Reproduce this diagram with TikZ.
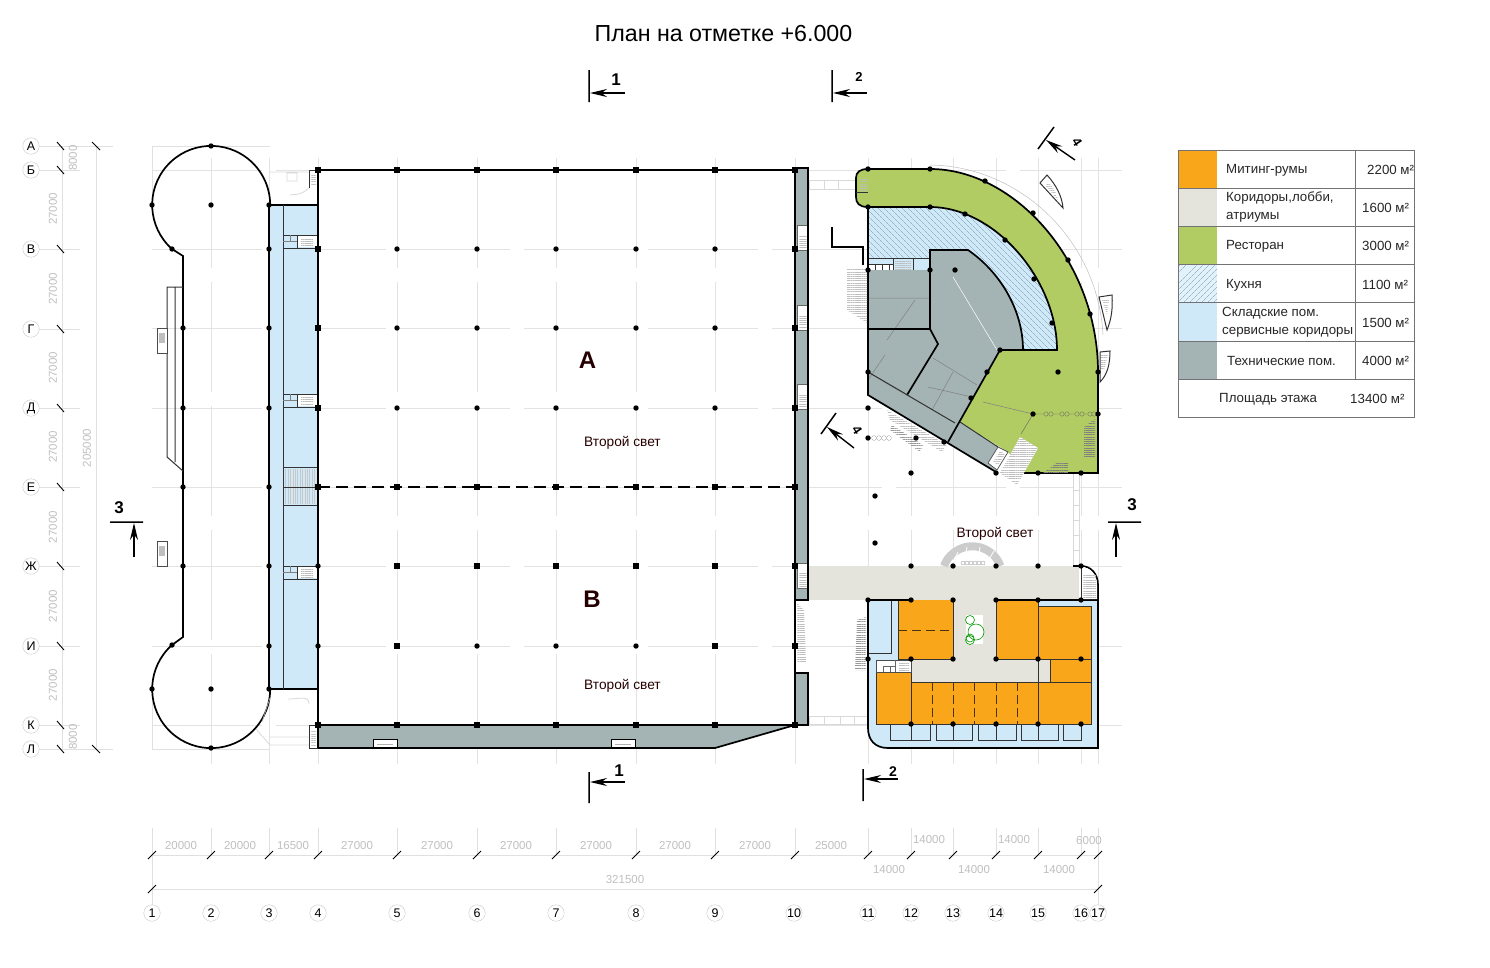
\documentclass[tikz,border=0pt]{standalone}
\usepackage{fontspec}
\setmainfont{Liberation Sans}
\usetikzlibrary{arrows.meta,patterns,patterns.meta}
\definecolor{meeting}{RGB}{249,166,26}
\definecolor{lobby}{RGB}{228,228,220}
\definecolor{food}{RGB}{177,204,98}
\definecolor{store}{RGB}{207,233,248}
\definecolor{tech}{RGB}{164,180,180}
\definecolor{hatchline}{RGB}{120,150,170}

\begin{document}
\begin{tikzpicture}[
	x=1pt, y=-1pt,
	>=Stealth,
	wall/.style={draw=black, line width=1.7pt, line join=miter},
	thinwall/.style={draw=black!80, line width=1pt},
	axisline/.style={draw=black!12, line width=0.9pt},
	gridline/.style={draw=black!11, line width=0.8pt, dash pattern=on 110pt off 14pt},
	tick/.style={draw=black, line width=0.9pt},
	secarrow/.style={draw=black, ->, line width=1.4pt, >={Stealth[length=17pt,width=8pt]}},
	axiscircle/.style={draw=black!22, fill=white, circle, minimum size=16.5pt, inner sep=0pt, font=\fontsize{12.5}{13}\selectfont},
	dimlabel/.style={text=black!25, font=\fontsize{11.5}{12}\selectfont, inner sep=0pt},
	marklabel/.style={font=\fontsize{17}{18}\selectfont\bfseries, inner sep=0pt},
	roomlabel/.style={font=\fontsize{13.7}{15}\selectfont, text=black!85!red, inner sep=0pt},
	legendtext/.style={font=\fontsize{13.3}{18.5}\selectfont, text=black!85, inner sep=0pt, align=left, anchor=west},
	stairs/.style={draw=none, pattern={Lines[angle=0,distance=2.2pt,line width=0.5pt]}, pattern color=black!25},
	core/.style={draw=black!70, line width=0.7pt, fill=white},
	bridge/.style={draw=black!15, line width=0.8pt, fill=white}
  ]
  \useasboundingbox (0,0) rectangle (1490,967);

  % faint axes across the plan
  \foreach \gy in {170,249,328,408,487,566,646,725}
	\draw[gridline] (152,\gy) -- (1122,\gy);
  \foreach \gx in {211,269,318,397,477,556,636,715,795,868,911,953,996,1038,1081,1098}
	\draw[gridline] (\gx,158) -- (\gx,768);
  \draw[axisline] (38,146) -- (113,146) (152,146) -- (270,146);
  \draw[axisline] (38,749) -- (113,749) (152,749) -- (270,749);
  \draw[axisline] (152,146) -- (152,205) (152,689) -- (152,749);

  % left wing
  \draw[wall] (172,249) arc[start angle=131.6, end angle=360, radius=59];
  \draw[wall] (172,249) -- (183,256) -- (183,637) -- (172,645)
	arc[start angle=228.4, end angle=0, radius=59];
  \draw[thinwall] (183,287) -- (167,287) -- (167,457) -- (183,471)
	(175,287) -- (175,462);
  \foreach \sy in {328,541} {
	\draw[core] (157,\sy) rectangle (167,\sy+25);
	\fill[black!25] (159,\sy+5) rectangle (165,\sy+15);
  }

  % service strip
  \fill[store] (269,205) rectangle (318,689);
  \draw[wall] (269,205) -- (269,689) -- (318,689) (269,205) -- (318,205);
  \draw[thinwall] (283,205) -- (283,689);
  \foreach \cy in {235,394,566} {
	\draw[thinwall] (283,\cy) rectangle (318,\cy+13);
	\fill[white] (297,\cy+1) rectangle (317,\cy+12);
	\draw[thinwall] (297,\cy) -- (297,\cy+13);
	\fill[stairs] (301,\cy+3) rectangle (313,\cy+11);
	\draw[black!50, line width=0.4pt] (283,\cy+6) -- (297,\cy+6) (290,\cy) -- (290,\cy+6);
  }
  \fill[pattern={Lines[angle=90,distance=2.4pt,line width=0.5pt]}, pattern color=black!22] (285,469) rectangle (316,503);
  \draw[thinwall] (283,467) -- (318,467) (283,487) -- (318,487) (283,505) -- (318,505);

  % walkways beside the hall
  \draw[bridge] (270,172) -- (309,172) (287,173) rectangle (297,181) (309,188) .. controls (300,196) and (295,194) .. (290,195);
  \draw[bridge] (309,704) .. controls (309,695) and (300,699) .. (288,699) (256,729) -- (270,745) (270,737) -- (309,737) (270,745) -- (309,745);
  \draw[draw=black!25, line width=0.6pt] (262,722) -- (270,698);
  \draw[bridge] (809,180) rectangle (856,189) (824,180) -- (824,189) (838,180) -- (838,189);
  \draw[bridge] (809,716) rectangle (868,724) (824,716) -- (824,724) (840,716) -- (840,724) (854,716) -- (854,724);
  \draw[bridge] (1073,473) rectangle (1079,566);
  \foreach \ry in {490,505,520,535,550} \draw[bridge] (1073,\ry) -- (1079,\ry);

  % main hall
  \fill[tech] (795,168) rectangle (808,600);
  \fill[tech] (795,673) rectangle (808,725);
  \fill[tech] (318,725) -- (795,725) -- (715,748) -- (318,748) -- cycle;
  \foreach \ny in {225,305,384,563} {
	\fill[white] (797,\ny) rectangle (808,\ny+25);
	\draw[black!60, line width=0.5pt] (797,\ny) -- (808,\ny) (797,\ny) -- (797,\ny+25) -- (808,\ny+25);
	\fill[stairs] (799,\ny+10) rectangle (807,\ny+23);
  }
  \foreach \nx in {373,611} {
	\draw[wall, fill=white, line width=1pt] (\nx,748) -- (\nx,739) -- (\nx+24,739) -- (\nx+24,748);
	\draw[black!30, line width=0.4pt] (\nx+4,744) -- (\nx+20,744);
  }
  \draw[wall] (318,170) -- (795,170) (318,170) -- (318,748) -- (715,748) -- (795,725) -- (318,725);
  \draw[wall] (795,168) -- (808,168) -- (808,600) -- (795,600) (795,168) -- (795,725) -- (808,725) -- (808,673) -- (795,673);
  \draw[wall, dash pattern=on 12pt off 6pt] (318,487) -- (795,487);
  \draw[thinwall] (318,170) -- (309,170) -- (309,188) (318,725) -- (309,725) -- (309,748) -- (318,748);
  \fill[stairs] (311,174) rectangle (316,185);
  \fill[stairs] (311,730) rectangle (316,745);
  % stairs in the gap of the strip
  \fill[stairs] (797,603) -- (804,610) -- (806,662) -- (797,662) -- cycle;

  % restaurant ring
  \fill[food] (868,169) -- (930,169) .. controls (1015,169) and (1098,262) .. (1098,372)
	-- (1098,473) -- (1024,473) -- (1008,452) -- (960,422) -- (1000,350) -- (1057,350)
	.. controls (1057,280) and (995,207) .. (930,207)
	-- (866,207) .. controls (859,207) and (856,203) .. (856,197) -- (856,178) .. controls (856,172) and (860,169) .. (868,169) -- cycle;

  % kitchen, hatched
  \fill[store] (868,207) -- (930,207) .. controls (995,207) and (1057,280) .. (1057,350)
	-- (1023,350) .. controls (1023,310) and (1000,272) .. (968,250)
	-- (930,250) -- (930,270) -- (868,270) -- cycle;
  \fill[pattern={Lines[angle=135,distance=4pt,line width=0.4pt]}, pattern color=hatchline]
	(868,207) -- (930,207) .. controls (995,207) and (1057,280) .. (1057,350)
	-- (1023,350) .. controls (1023,310) and (1000,272) .. (968,250)
	-- (930,250) -- (930,258) -- (868,258) -- cycle;
  \draw[thinwall, fill=store] (868,258) rectangle (930,270);
  \fill[white] (868,264) rectangle (893,270);
  \draw[thinwall, line width=0.5pt] (868,264) -- (893,264) (875,264) -- (875,270) (882,264) -- (882,270) (889,264) -- (889,270) (893,258) -- (893,270) (913,258) -- (913,270);
  \fill[stairs] (895,260) rectangle (911,269);

  % technical rooms
  \fill[tech] (868,270) -- (930,270) -- (930,250) -- (968,250)
	.. controls (1000,272) and (1023,310) .. (1023,350)
	-- (1000,350) -- (960,422) -- (998,447) -- (996,472) -- (868,395) -- cycle;
  \draw[white, line width=0.5pt] (953,277) -- (997,350);
  \draw[black!50, line width=0.5pt] (868,298) -- (930,298) (933,358) -- (977,385) (928,387) -- (972,397)
	(953,372) -- (932,410) (868,372) -- (910,396) (885,355) -- (868,380) (915,300) -- (887,340);
  \draw[black!50, line width=0.5pt] (983,402) -- (1033,414);

  % outlines of the ring and the rooms
  \draw[wall] (868,169) -- (930,169) .. controls (1015,169) and (1098,262) .. (1098,372)
	-- (1098,473) -- (1024,473);
  \draw[wall] (868,207) -- (930,207) .. controls (995,207) and (1057,280) .. (1057,350)
	-- (1000,350) -- (948,442);
  \draw[wall] (1023,350) .. controls (1023,310) and (1000,272) .. (968,250)
	-- (930,250) -- (930,329) -- (868,329);
  \draw[wall] (930,329) -- (938,344) -- (907,395);
  \draw[wall] (868,169) .. controls (860,169) and (856,172) .. (856,178) -- (856,197) .. controls (856,203) and (859,207) .. (868,207) -- (868,395) -- (996,472);
  \draw[thinwall] (868,372) -- (955,423) (960,422) -- (998,447);
  \draw[wall, line width=1.2pt] (832,227) -- (832,247) -- (863,247) -- (863,265);
  \fill[stairs] (860,178) rectangle (867,193);
  \draw[thinwall, line width=0.5pt] (856,192) -- (868,192);

  % stair blocks round the ring
  \draw[core] (998,447) -- (1008,452) -- (997,470) -- (988,463) -- cycle;
  \fill[stairs] (1000,451) -- (1005,454) -- (998,465) -- (993,462) -- cycle;
  \fill[white] (1020,437) -- (1038,448) -- (1017,485) -- (1000,473) -- cycle;
  \fill[stairs] (1020,437) -- (1038,448) -- (1017,485) -- (1000,473) -- cycle;
  \fill[stairs] (847,268) -- (867,268) -- (867,323) -- (847,310) -- cycle;
  \fill[stairs] (887,410) -- (947,445) -- (942,452) -- (890,420) -- cycle;
  \fill[stairs, pattern color=black!40] (892,425) -- (923,445) -- (920,452) -- (890,430) -- cycle;
  \fill[stairs, pattern color=black!50] (1084,427) -- (1095,419) -- (1095,457) -- (1084,457) -- cycle;
  \fill[stairs, pattern color=black!50] (1043,473) -- (1058,462) -- (1068,462) -- (1068,473) -- cycle;
  \fill[stairs, pattern color=black!40] (857,620) -- (866,617) -- (866,670) -- (855,670) -- cycle;

  % pavilions on the outer curve
  \draw[thinwall, fill=white] (1047,175) .. controls (1056,185) and (1062,196) .. (1063,208) -- (1040,183) -- cycle;
  \fill[stairs] (1048,181) -- (1055,191) -- (1058,200) -- (1046,186) -- cycle;
  \draw[thinwall, fill=white] (1099,297) -- (1112,295) .. controls (1113,310) and (1111,320) .. (1107,330) -- cycle;
  \fill[stairs] (1102,300) -- (1109,299) -- (1107,315) -- cycle;
  \draw[thinwall, fill=white] (1100,352) -- (1110,351) .. controls (1110,365) and (1107,375) .. (1100,382) -- cycle;
  \fill[stairs] (1101,355) -- (1108,354) -- (1104,370) -- (1101,370) -- cycle;
  \draw[black!25, line width=0.5pt] (930,165) .. controls (1020,166) and (1098,240) .. (1103,335);

  % bead lines
  \draw[black!60, line width=0.4pt] (1033,414) -- (1098,414) (1033,414) -- (1021,434);
  \foreach \bx in {1046,1051,1062,1067,1077,1082,1090,1094}
	\draw[black!60, fill=food, line width=0.3pt] (\bx,414) circle (2.2);
  \foreach \bx in {874,879,884,889} \draw[black!40, line width=0.3pt] (\bx,438) circle (2.4);

  % corridor and lower block
  \fill[lobby] (809,566) rectangle (1079,600);
  \fill[store] (868,600) -- (1098,600) -- (1098,748) -- (888,748) .. controls (875,748) and (868,740) .. (868,728) -- cycle;
  \draw[thinwall] (891,600) -- (891,653) -- (868,653);
  \fill[lobby] (911,660) rectangle (1050,682);
  \fill[lobby] (953,600) rectangle (996,660);
  \fill[meeting] (898,600) rectangle (953,660);
  \fill[meeting] (996,600) rectangle (1038,660);
  \fill[meeting] (1038,606) rectangle (1091,682);
  \fill[lobby] (1038,660) rectangle (1050,682);
  \fill[meeting] (911,682) rectangle (1091,724);
  \fill[meeting] (876,672) rectangle (911,724);
  \draw[thinwall] (898,600) -- (898,659) -- (953,659) -- (953,600) (996,600) -- (996,659) -- (1091,659)
	(1038,600) -- (1038,724) (1038,606) -- (1091,606) -- (1091,724) -- (876,724) -- (876,672) -- (911,672) -- (911,724)
	(911,682) -- (1091,682) (1050,659) -- (1050,682);
  \draw[thinwall, draw=black!70!meeting, dash pattern=on 9pt off 5pt] (898,630) -- (953,630);
  \foreach \dx in {932,953,974,996,1017}
	\draw[thinwall, draw=black!70!meeting, dash pattern=on 9pt off 4pt] (\dx,682) -- (\dx,724);
  % core at the corner
  \draw[core, line width=0.5pt] (876,660) rectangle (911,672);
  \draw[black!60, line width=0.4pt] (883,666) -- (895,666) (883,666) -- (883,672) (890,666) -- (890,672) (895,660) -- (895,672);
  \fill[stairs] (899,662) rectangle (909,671);

  % boxes along the bottom
  \foreach \ba/\bb in {890/930,936/972,978/1016,1021/1058,1063/1081}
	\draw[thinwall] (\ba,724) -- (\ba,740) -- (\bb,740) -- (\bb,724);
  \foreach \bc in {911,953,996,1038}
	\draw[thinwall] (\bc,724) -- (\bc,740);

  % garden
  \fill[white] (966,615) rectangle (983,644);
  \draw[green!60!black, line width=0.6pt] (970,620) circle (4.5) (976,632) circle (8) (970,638) circle (4) (970,640) circle (4.5);
  % wide stair over the corridor
  \draw[black!20, line width=8pt] (944,566) arc[start angle=200, end angle=340, radius=30];
  \draw[white, line width=0.8pt] (952,564) -- (958,552) (965,559) -- (967,547) (978,559) -- (980,547) (988,561) -- (994,551);
  \foreach \bx in {963,967,971,975,979,983} \draw[black!45, line width=0.3pt] (\bx,563) circle (2);

  % outer wall of the lower block
  \draw[wall] (1073,566) -- (1081,566) .. controls (1091,566) and (1098,574) .. (1098,585) -- (1098,748) -- (888,748) .. controls (875,748) and (868,740) .. (868,728) -- (868,600) -- (911,600);
  \draw[wall] (996,600) -- (1098,600);
  \fill[white] (1081,567) .. controls (1090,567) and (1097,574) .. (1097,585) -- (1097,599) -- (1081,599) -- cycle;
  \fill[stairs] (1083,574) rectangle (1096,598);
  \draw[thinwall] (1081,566) -- (1081,600);

  % columns, round
  \foreach \cx/\cy in {211/146,152/205,211/205,269/205,172/249,269/249,183/328,269/328,183/408,269/408,183/487,269/487,183/566,269/566,318/566,172/645,269/646,318/646,152/689,211/689,269/689,211/748,
	397/249,477/249,556/249,636/249,715/249,397/328,477/328,556/328,636/328,715/328,397/408,477/408,556/408,636/408,715/408,477/646,556/646,636/646,
	868/169,930/169,985/181,1033/213,1068/260,1090/314,1098/372,868/207,930/207,965/214,1005/240,1034/279,1052/323,1058/372,955/270,868/270,930/270,1000/350,987/372,971/398,868/372,868/408,868/438,916/438,944/442,911/473,996/473,1038/473,1081/473,1033/414,1098/414,
	875/496,875/543,
	911/566,953/566,996/566,1038/566,1081/566,868/600,911/600,953/600,996/600,1038/600,1081/600,868/659,911/659,953/659,996/659,1038/659,1081/659,911/724,953/724,996/724,1038/724,1081/724}
	\fill (\cx,\cy) circle (2.7);
  % columns, square
  \foreach \cx/\cy in {318/170,397/170,477/170,556/170,636/170,715/170,795/170,318/249,795/249,318/328,795/328,318/408,795/408,318/487,397/487,477/487,556/487,636/487,715/487,795/487,397/566,477/566,556/566,636/566,715/566,795/566,397/646,715/646,795/646,318/725,397/725,477/725,556/725,636/725,715/725,795/725}
	\fill (\cx-2.7,\cy-2.7) rectangle (\cx+2.7,\cy+2.7);

  % row axes on the left
  \draw[axisline] (62,146) -- (62,749);
  \draw[axisline] (96,146) -- (96,749);
  \foreach \rn/\ry in {А/146,Б/170,В/249,Г/329,Д/408,Е/487,Ж/566,И/646,К/725,Л/749} {
	\draw[axisline] (39,\ry) -- (80,\ry);
	\draw[tick] (57,\ry-4) -- (64,\ry+4);
	\node[axiscircle] (row\ry) at (31,\ry) {\rn};
  }
  \draw[tick] (92,142) -- (100,150);
  \draw[tick] (92,745) -- (100,753);
  \foreach \ry in {209,289,368,447,527,606,685}
	\node[dimlabel, rotate=90] (rowdim\ry) at (53,\ry) {27000};
  \node[dimlabel, rotate=90] (rowdimtop) at (73,158) {8000};
  \node[dimlabel, rotate=90] (rowdimbot) at (73,737) {8000};
  \node[dimlabel, rotate=90] (rowdimall) at (87,448) {205000};

  % column axes below
  \draw[axisline] (152,855) -- (1098,855);
  \draw[axisline] (152,889) -- (1098,889);
  \draw[axisline] (152,828) -- (152,905);
  \draw[axisline] (1098,828) -- (1098,905);
  \foreach \cn/\cx in {1/152,2/211,3/269,4/318,5/397,6/477,7/556,8/636,9/715,10/795,11/868,12/911,13/953,14/996,15/1038,16/1081,17/1098} {
	\draw[axisline] (\cx,828) -- (\cx,855);
	\draw[tick] (\cx-4,859) -- (\cx+4,851);
  }
  \foreach \cn/\cx in {1/152,2/211,3/269,4/318,5/397,6/477,7/556,8/636,9/715,10/794,11/868,12/911,13/953,14/996,15/1038,16/1081,17/1098}
	\node[axiscircle] (col\cn) at (\cx,913) {\cn};
  \draw[tick] (148,893) -- (156,885);
  \draw[tick] (1094,893) -- (1102,885);
  \foreach \dn/\dx/\dy in {20000/181/846,20000/240/846,16500/293/846,27000/357/846,27000/437/846,27000/516/846,27000/596/846,27000/675/846,27000/755/846,25000/831/846,14000/889/870,14000/929/840,14000/974/870,14000/1014/840,14000/1059/870,6000/1089/841,321500/625/880}
	\node[dimlabel] (dim\dx) at (\dx,\dy) {\dn};

  % section marks
  \coordinate (secA) at (625,93);
  \coordinate (secB) at (590,93);
  \coordinate (secC) at (867,93);
  \coordinate (secD) at (833,93);
  \coordinate (secE) at (625,782);
  \coordinate (secF) at (590,782);
  \coordinate (secG) at (898,779);
  \coordinate (secH) at (864,779);
  \coordinate (secI) at (134,557);
  \coordinate (secJ) at (134,523);
  \coordinate (secK) at (1116,557);
  \coordinate (secL) at (1116,523);
  \coordinate (secM) at (1075,160);
  \coordinate (secN) at (1046,140);
  \coordinate (secO) at (854,448);
  \coordinate (secP) at (827,427);
  \draw[secarrow] (secA) -- (secB);
  \draw[secarrow] (secC) -- (secD);
  \draw[secarrow] (secE) -- (secF);
  \draw[secarrow] (secG) -- (secH);
  \draw[secarrow] (secI) -- (secJ);
  \draw[secarrow] (secK) -- (secL);
  \draw[secarrow] (secM) -- (secN);
  \draw[secarrow] (secO) -- (secP);
  \draw[tick, line width=1.5pt] (589,70) -- (589,102) (832,70) -- (832,102) (589,772) -- (589,803) (863,769) -- (863,801)
	(110,522) -- (143,522) (1108,522) -- (1141,522) (1038,149) -- (1054,127) (821,434) -- (836,413);
  \node[marklabel] (secone) at (616,80) {1};
  \node[marklabel, font=\fontsize{13}{14}\selectfont\bfseries] (sectwo) at (859,77) {2};
  \node[marklabel] (seconeb) at (619,771) {1};
  \node[marklabel, font=\fontsize{14}{14}\selectfont\bfseries] (sectwob) at (893,772) {2};
  \node[marklabel] (secthree) at (119,508) {3};
  \node[marklabel] (secthreeb) at (1132,505) {3};
  \node[marklabel, font=\fontsize{13}{14}\selectfont\bfseries, rotate=-57] (secfour) at (1077,142) {4};
  \node[marklabel, font=\fontsize{13}{14}\selectfont\bfseries, rotate=-57] (secfourb) at (857,430) {4};

  % labels
  \node[inner sep=0pt, font=\fontsize{23.2}{25}\selectfont] (title) at (723.5,33.5) {План на отметке +6.000};
  \node[inner sep=0pt, font=\fontsize{24}{26}\selectfont\bfseries, text=black!85!red] (hallA) at (587.5,360) {А};
  \node[inner sep=0pt, font=\fontsize{24}{26}\selectfont\bfseries, text=black!85!red] (hallB) at (592,599) {В};
  \node[roomlabel] (lightA) at (622.5,442.5) {Второй свет};
  \node[roomlabel] (lightB) at (622.5,686) {Второй свет};
  \node[roomlabel] (lightC) at (995,534) {Второй свет};

  % legend
  \fill[meeting] (1178,150) rectangle (1217,188);
  \fill[lobby] (1178,188) rectangle (1217,226);
  \fill[food] (1178,226) rectangle (1217,264);
  \fill[store!60] (1178,264) rectangle (1217,302);
  \fill[pattern={Lines[angle=45,distance=4pt,line width=0.4pt]}, pattern color=hatchline] (1178,264) rectangle (1217,302);
  \fill[store] (1178,302) rectangle (1217,341);
  \fill[tech] (1178,341) rectangle (1217,379);
  \draw[black!55, line width=0.7pt] (1178,150) rectangle (1414,417)
	(1178,188) -- (1414,188) (1178,226) -- (1414,226) (1178,264) -- (1414,264)
	(1178,302) -- (1414,302) (1178,341) -- (1414,341) (1178,379) -- (1414,379)
	(1355,150) -- (1355,379);
  \node[legendtext] (lgA) at (1226,170) {Митинг-румы};
  \node[legendtext] (lgB) at (1226,207) {Коридоры,лобби,\\атриумы};
  \node[legendtext] (lgC) at (1226,246) {Ресторан};
  \node[legendtext] (lgD) at (1226,285) {Кухня};
  \node[legendtext] (lgE) at (1222,322) {Складские пом.\\сервисные коридоры};
  \node[legendtext] (lgF) at (1227,361) {Технические пом.};
  \node[legendtext] (lgG) at (1219,399) {Площадь этажа};
  \node[legendtext] (arA) at (1367,170) {2200 м²};
  \node[legendtext] (arB) at (1362,208) {1600 м²};
  \node[legendtext] (arC) at (1362,246) {3000 м²};
  \node[legendtext] (arD) at (1362,285) {1100 м²};
  \node[legendtext] (arE) at (1362,323) {1500 м²};
  \node[legendtext] (arF) at (1362,361) {4000 м²};
  \node[legendtext] (arG) at (1350,399) {13400 м²};

\end{tikzpicture}
\end{document}
